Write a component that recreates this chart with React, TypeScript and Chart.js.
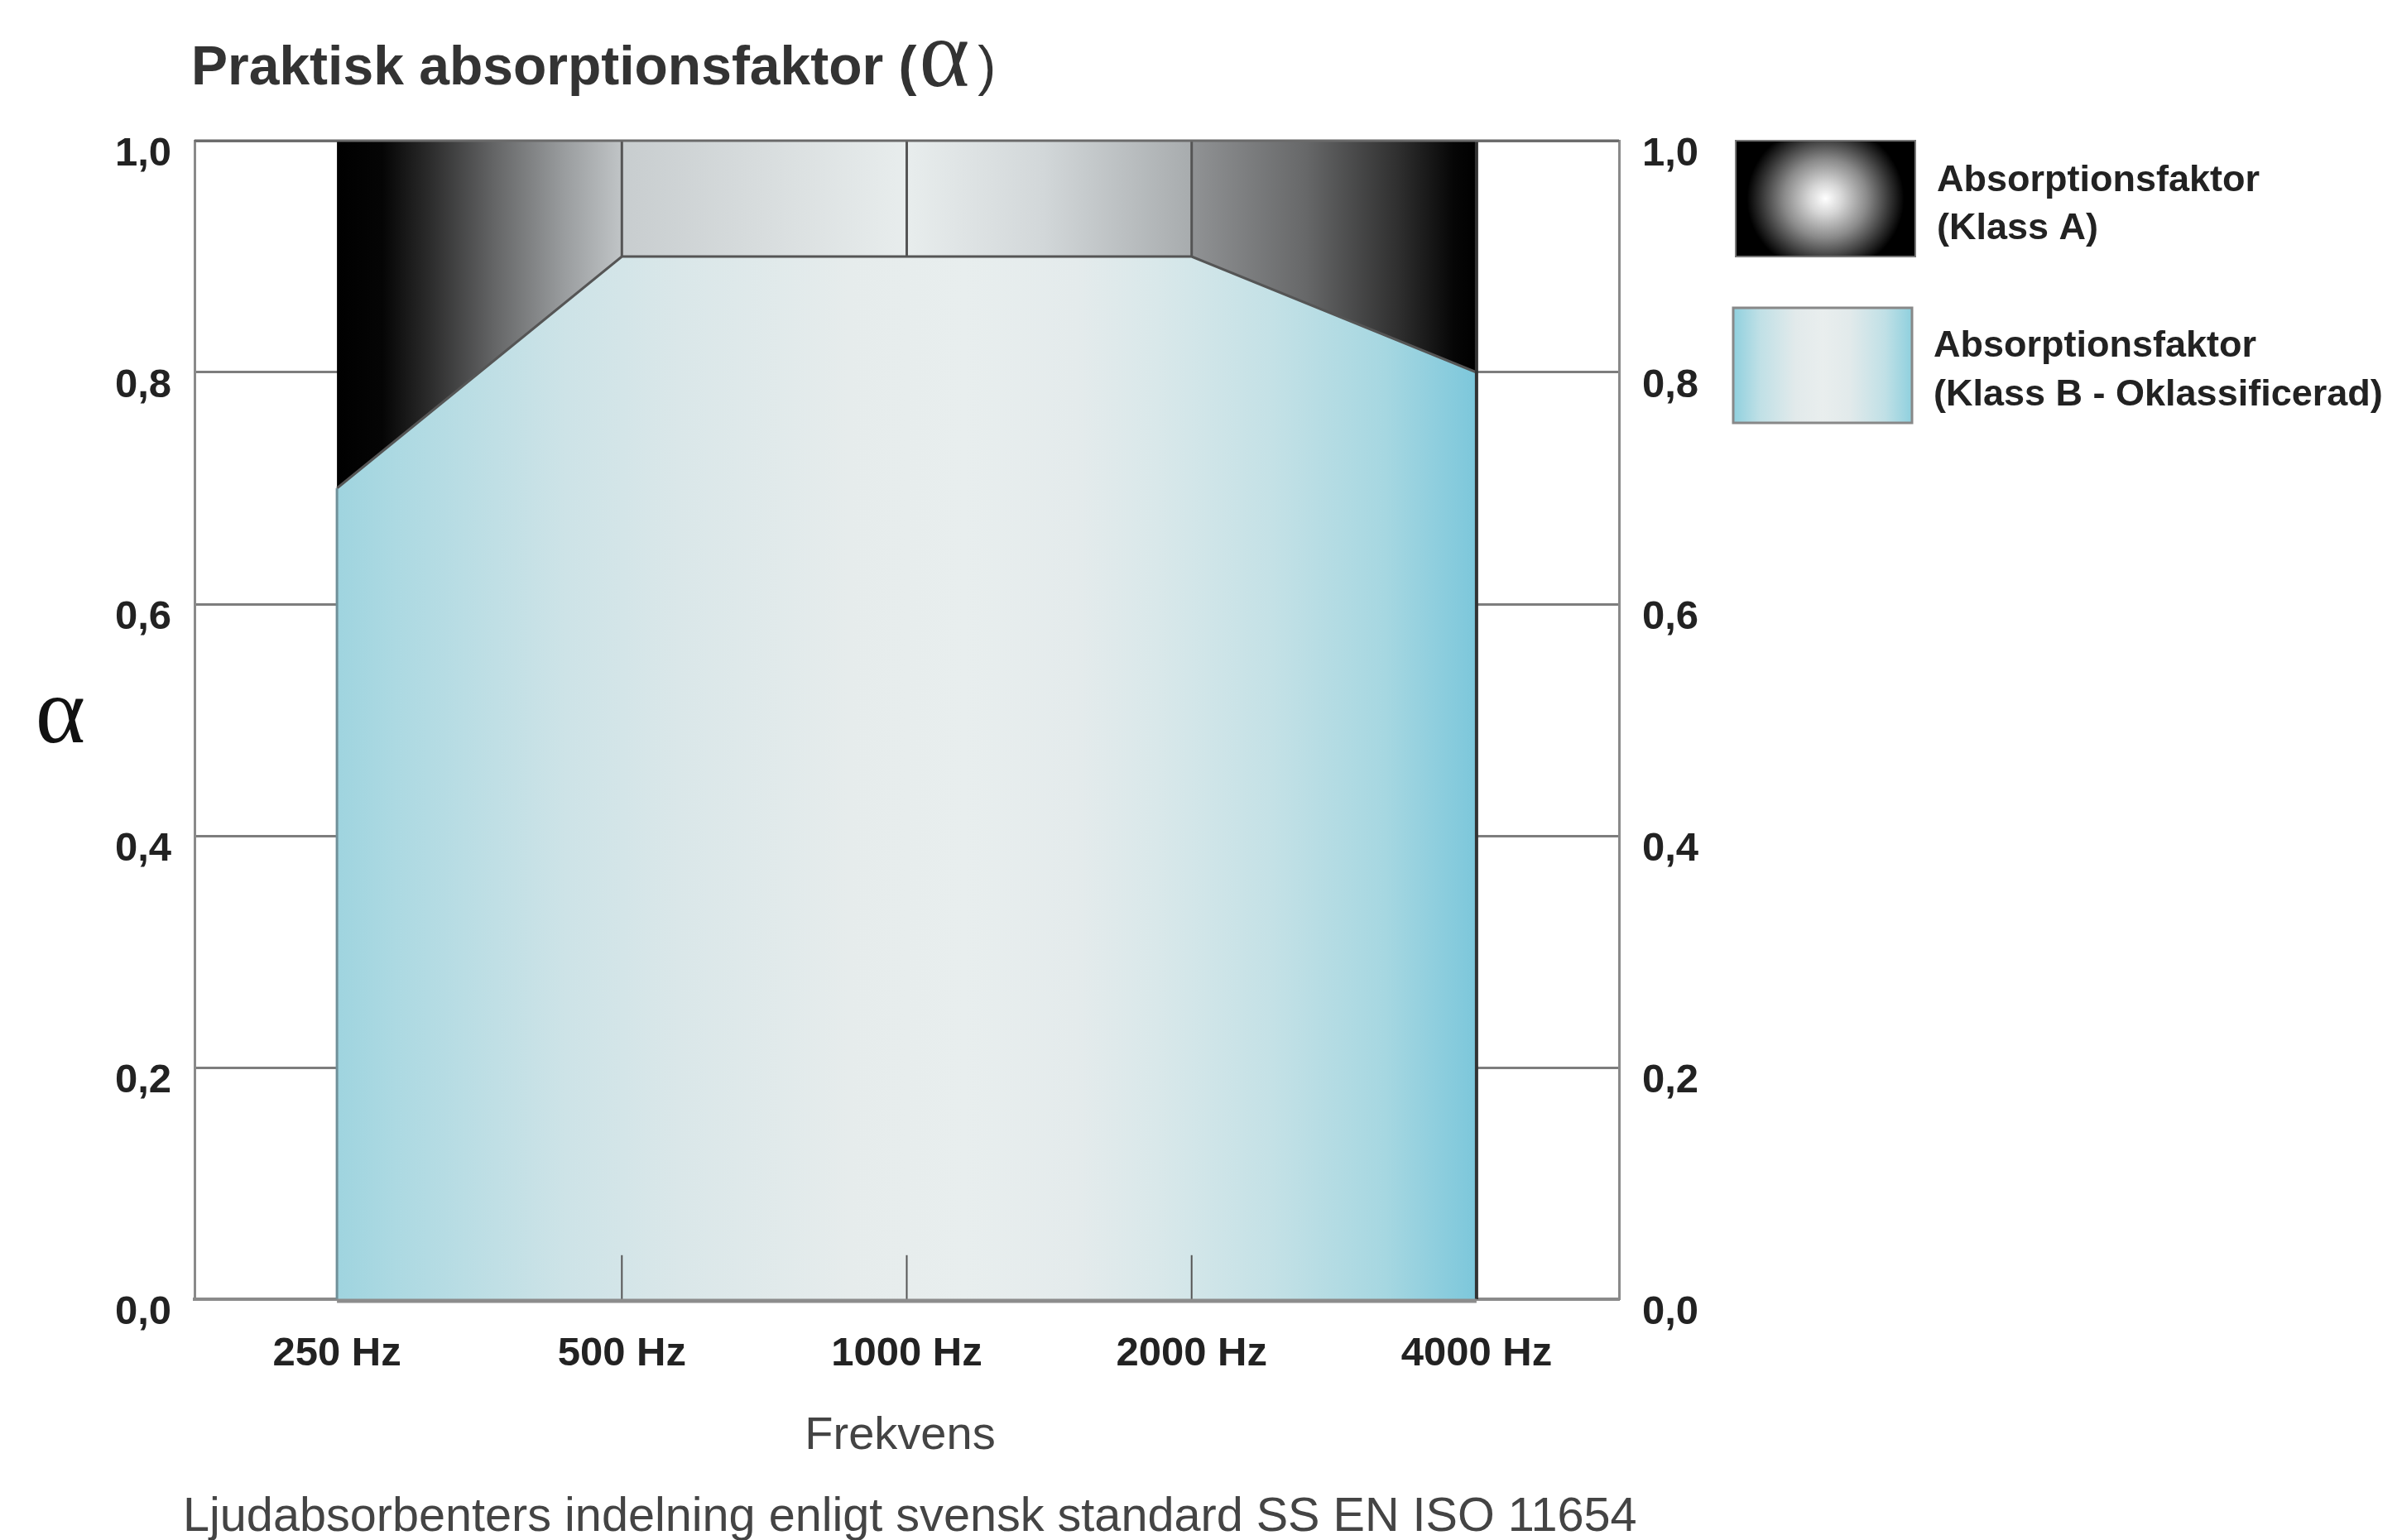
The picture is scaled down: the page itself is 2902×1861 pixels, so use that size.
import React, { useEffect, useRef } from 'react';
import { Chart, registerables } from 'chart.js';

Chart.register(...registerables);

// ---- data ----
const FREQUENCIES = ['250 Hz', '500 Hz', '1000 Hz', '2000 Hz', '4000 Hz'];
const CLASS_B = [0.7, 0.9, 0.9, 0.9, 0.8];
const CLASS_A = [1.0, 1.0, 1.0, 1.0, 1.0];
const Y_TICKS = [0, 0.2, 0.4, 0.6, 0.8, 1.0];
const TITLE = 'Praktisk absorptionsfaktor ';
const X_TITLE = 'Frekvens';
const NOTE = 'Ljudabsorbenters indelning enligt svensk standard SS EN ISO 11654';
const LEGEND_A = ['Absorptionsfaktor', '(Klass A)'];
const LEGEND_B = ['Absorptionsfaktor', '(Klass B - Oklassificerad)'];
const BOTTOM_TICK = 0.038;

const SANS = "'Liberation Sans', Arial, Helvetica, sans-serif";
const SERIF = "'Liberation Serif', 'Times New Roman', serif";

const A_STOPS: [number, string][] = [
  [0, '#000000'], [0.04, '#050505'], [0.08, '#2a2a2a'], [0.14, '#666768'],
  [0.2, '#9a9d9f'], [0.249, '#c0c4c6'], [0.251, '#c8cdcf'], [0.5, '#e8eded'],
  [0.62, '#d2d7d9'], [0.749, '#a8acae'], [0.751, '#909294'], [0.85, '#676869'],
  [0.93, '#303030'], [0.98, '#060606'], [1, '#000000'],
];
const B_STOPS: [number, string][] = [
  [0, '#9fd4df'], [0.05, '#acd9e2'], [0.2, '#cde3e7'], [0.3, '#dae7e9'],
  [0.45, '#e6ecec'], [0.55, '#e8eeee'], [0.65, '#e4ebec'], [0.72, '#d9e8ea'],
  [0.82, '#c4e1e6'], [0.92, '#a6d7e1'], [1, '#7cc7db'],
];

function makeGradient(context: any, stops: [number, string][]) {
  const chart = context.chart;
  const { ctx, chartArea } = chart;
  if (!chartArea || !chart.scales.x) return 'rgba(0,0,0,0)';
  const x0 = chart.scales.x.getPixelForValue(0);
  const x1 = chart.scales.x.getPixelForValue(FREQUENCIES.length - 1);
  const g = ctx.createLinearGradient(x0, 0, x1, 0);
  stops.forEach(([o, c]) => g.addColorStop(o, c));
  return g;
}

const fmt = (v: number) => v.toFixed(1).replace('.', ',');

const decorPlugin = {
  id: 'decor',
  afterDatasetsDraw(chart: any) {
    const { ctx, chartArea, scales } = chart;
    const x = scales.x;
    const y = scales.y;
    ctx.save();
    ctx.strokeStyle = '#555555';
    for (let i = 1; i < FREQUENCIES.length - 1; i++) {
      const px = x.getPixelForValue(i);
      ctx.lineWidth = 3;
      ctx.beginPath();
      ctx.moveTo(px, y.getPixelForValue(CLASS_B[i]));
      ctx.lineTo(px, y.getPixelForValue(CLASS_A[i]));
      ctx.stroke();
      ctx.lineWidth = 2;
      ctx.beginPath();
      ctx.moveTo(px, y.getPixelForValue(0));
      ctx.lineTo(px, y.getPixelForValue(BOTTOM_TICK));
      ctx.stroke();
    }
    const xl = x.getPixelForValue(0);
    const xr = x.getPixelForValue(FREQUENCIES.length - 1);
    ctx.strokeStyle = '#6f9099';
    ctx.lineWidth = 3;
    ctx.beginPath();
    ctx.moveTo(xl, y.getPixelForValue(0));
    ctx.lineTo(xl, y.getPixelForValue(CLASS_B[0]));
    ctx.stroke();
    ctx.strokeStyle = '#333333';
    ctx.lineWidth = 4;
    ctx.beginPath();
    ctx.moveTo(xr, y.getPixelForValue(0));
    ctx.lineTo(xr, y.getPixelForValue(CLASS_A[CLASS_A.length - 1]));
    ctx.stroke();
    ctx.strokeStyle = '#8c8c8c';
    ctx.lineWidth = 5;
    ctx.beginPath();
    ctx.moveTo(xl, y.getPixelForValue(0) + 2);
    ctx.lineTo(xr, y.getPixelForValue(0) + 2);
    ctx.stroke();
    ctx.strokeStyle = '#6a6a6a';
    ctx.lineWidth = 3;
    ctx.beginPath();
    ctx.moveTo(chartArea.left, y.getPixelForValue(1));
    ctx.lineTo(chartArea.right, y.getPixelForValue(1));
    ctx.stroke();
    ctx.restore();
  },
  afterDraw(chart: any) {
    const { ctx, chartArea } = chart;
    ctx.save();
    ctx.textBaseline = 'alphabetic';
    // title
    ctx.fillStyle = '#333333';
    ctx.textAlign = 'left';
    ctx.font = `bold 66px ${SANS}`;
    let tx = 231;
    ctx.fillText(TITLE, tx, 102);
    tx += ctx.measureText(TITLE).width;
    ctx.fillText('(', tx, 102);
    tx += ctx.measureText('(').width + 3;
    ctx.font = `116px ${SERIF}`;
    ctx.fillText('α', tx, 104);
    tx += ctx.measureText('α').width + 10;
    ctx.font = `66px ${SANS}`;
    ctx.fillText(')', tx, 102);

    // y axis symbol
    ctx.fillStyle = '#111111';
    ctx.textAlign = 'center';
    ctx.font = `115px ${SERIF}`;
    ctx.fillText('α', 73, 897);

    // x title and note
    ctx.fillStyle = '#444444';
    ctx.font = `56px ${SANS}`;
    ctx.fillText(X_TITLE, (chartArea.left + chartArea.right) / 2 - 8, 1751);
    ctx.textAlign = 'left';
    ctx.font = `57.6px ${SANS}`;
    ctx.fillText(NOTE, 221, 1850);

    // legend A box (radial)
    const ax = 2097, ay = 170, aw = 217, ah = 140;
    ctx.fillStyle = '#000000';
    ctx.fillRect(ax, ay, aw, ah);
    ctx.save();
    ctx.beginPath();
    ctx.rect(ax, ay, aw, ah);
    ctx.clip();
    ctx.translate(ax + aw / 2, ay + ah / 2);
    ctx.scale(1, 0.95);
    const rg = ctx.createRadialGradient(0, 0, 0, 0, 0, 100);
    rg.addColorStop(0, '#ffffff');
    rg.addColorStop(0.2, '#d6d6d6');
    rg.addColorStop(0.5, '#8a8a8a');
    rg.addColorStop(0.78, '#333333');
    rg.addColorStop(0.95, '#000000');
    rg.addColorStop(1, '#000000');
    ctx.fillStyle = rg;
    ctx.fillRect(-aw, -ah, aw * 2, ah * 2);
    ctx.restore();
    ctx.strokeStyle = '#777777';
    ctx.lineWidth = 2;
    ctx.strokeRect(ax, ay, aw, ah);

    // legend B box (linear)
    const bx = 2094, by = 372, bw = 216, bh = 139;
    const lg = ctx.createLinearGradient(bx, 0, bx + bw, 0);
    lg.addColorStop(0, '#8fd0de');
    lg.addColorStop(0.15, '#c0e0e6');
    lg.addColorStop(0.35, '#e2eaeb');
    lg.addColorStop(0.5, '#e9eeee');
    lg.addColorStop(0.65, '#e2eaeb');
    lg.addColorStop(0.85, '#c0e0e6');
    lg.addColorStop(1, '#8fd0de');
    ctx.fillStyle = lg;
    ctx.fillRect(bx, by, bw, bh);
    ctx.strokeStyle = '#888888';
    ctx.lineWidth = 3;
    ctx.strokeRect(bx, by, bw, bh);

    // legend text
    ctx.fillStyle = '#222222';
    ctx.font = `bold 45px ${SANS}`;
    ctx.fillText(LEGEND_A[0], 2340, 231);
    ctx.fillText(LEGEND_A[1], 2340, 289);
    ctx.fillText(LEGEND_B[0], 2336, 431);
    ctx.fillText(LEGEND_B[1], 2336, 490);
    ctx.restore();
  },
};

const tickFont = { family: SANS, size: 49, weight: 'bold' as const };

export default function App() {
  const canvasRef = useRef<HTMLCanvasElement | null>(null);

  useEffect(() => {
    if (!canvasRef.current) return;
    const yAxisCommon = {
      min: 0,
      max: 1,
      afterBuildTicks: (s: any) => {
        s.ticks = Y_TICKS.map((v) => ({ value: v }));
      },
      ticks: {
        padding: 28,
        labelOffset: 16,
        color: '#222222',
        font: tickFont,
        callback: (v: any) => fmt(Number(v)),
      },
    };
    const chart = new Chart(canvasRef.current, {
      type: 'line',
      data: {
        labels: FREQUENCIES,
        datasets: [
          {
            label: 'Absorptionsfaktor (Klass B - Oklassificerad)',
            data: CLASS_B,
            fill: 'origin',
            backgroundColor: (c: any) => makeGradient(c, B_STOPS),
            borderColor: '#555555',
            borderWidth: 3,
            pointRadius: 0,
            tension: 0,
          },
          {
            label: 'Absorptionsfaktor (Klass A)',
            data: CLASS_A,
            fill: '-1',
            backgroundColor: (c: any) => makeGradient(c, A_STOPS),
            borderColor: 'rgba(0,0,0,0)',
            borderWidth: 0,
            pointRadius: 0,
            tension: 0,
          },
        ],
      },
      options: {
        responsive: false,
        animation: false,
        maintainAspectRatio: false,
        layout: { padding: { top: 170, right: 846, left: 0, bottom: 0 } },
        plugins: {
          legend: { display: false },
          title: { display: false },
          tooltip: { enabled: false },
        },
        scales: {
          x: {
            type: 'category',
            offset: true,
            grid: { display: false },
            border: { display: true, color: '#8a8a8a', width: 4 },
            ticks: { padding: 29, color: '#222222', font: tickFont, maxRotation: 0, autoSkip: false },
            afterFit: (s: any) => {
              s.height = 291;
            },
          },
          y: {
            ...yAxisCommon,
            position: 'left',
            grid: { color: '#7d7d7d', lineWidth: 3, drawTicks: false },
            border: { display: true, color: '#8a8a8a', width: 3 },
            afterFit: (s: any) => {
              s.width = 235;
            },
          },
          y2: {
            ...yAxisCommon,
            position: 'right',
            grid: { display: false, drawTicks: false },
            border: { display: true, color: '#8a8a8a', width: 3 },
            afterFit: (s: any) => {
              s.width = 100;
            },
          },
        },
      } as any,
      plugins: [decorPlugin],
    });
    chart.update();
    return () => chart.destroy();
  }, []);

  return (
    <div style={{ position: 'absolute', left: 0, top: 0, width: 2902, height: 1861, background: '#ffffff' }}>
      <canvas ref={canvasRef} width={2902} height={1861} style={{ width: 2902, height: 1861, display: 'block' }} />
    </div>
  );
}
